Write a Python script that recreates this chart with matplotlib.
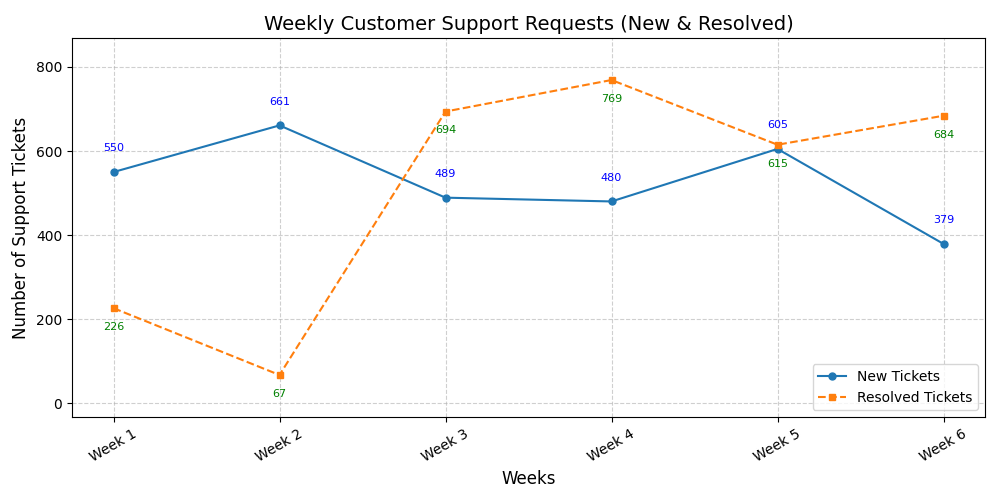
import matplotlib
matplotlib.use('Agg')
import matplotlib.pyplot as plt

weeks = ['Week 1', 'Week 2', 'Week 3', 'Week 4', 'Week 5', 'Week 6']
new_tickets = [550, 661, 489, 480, 605, 379]
resolved_tickets = [226, 67, 694, 769, 615, 684]

fig, ax = plt.subplots(figsize=(10, 5), dpi=100)

ax.plot(weeks, new_tickets, marker='o', markersize=5, linestyle='-',
        color='#1f77b4', label='New Tickets')
ax.plot(weeks, resolved_tickets, marker='s', markersize=5, linestyle='--',
        color='#ff7f0e', label='Resolved Tickets')

# value labels
for i, v in enumerate(new_tickets):
    ax.annotate(str(v), (i, v), xytext=(0, 13.5), textcoords='offset points',
                ha='center', va='bottom', fontsize=8, color='blue')
for i, v in enumerate(resolved_tickets):
    ax.annotate(str(v), (i, v), xytext=(0, -10), textcoords='offset points',
                ha='center', va='top', fontsize=8, color='green')

all_vals = new_tickets + resolved_tickets
ax.set_ylim(min(all_vals) - 100, max(all_vals) + 100)

ax.set_title('Weekly Customer Support Requests (New & Resolved)', fontsize=14)
ax.set_xlabel('Weeks', fontsize=12)
ax.set_ylabel('Number of Support Tickets', fontsize=12)
plt.xticks(rotation=30)
ax.grid(True, linestyle='--', alpha=0.6)
ax.legend(loc='lower right')

plt.subplots_adjust(left=0.072, right=0.985, top=0.924, bottom=0.166)
plt.savefig('out.png')
